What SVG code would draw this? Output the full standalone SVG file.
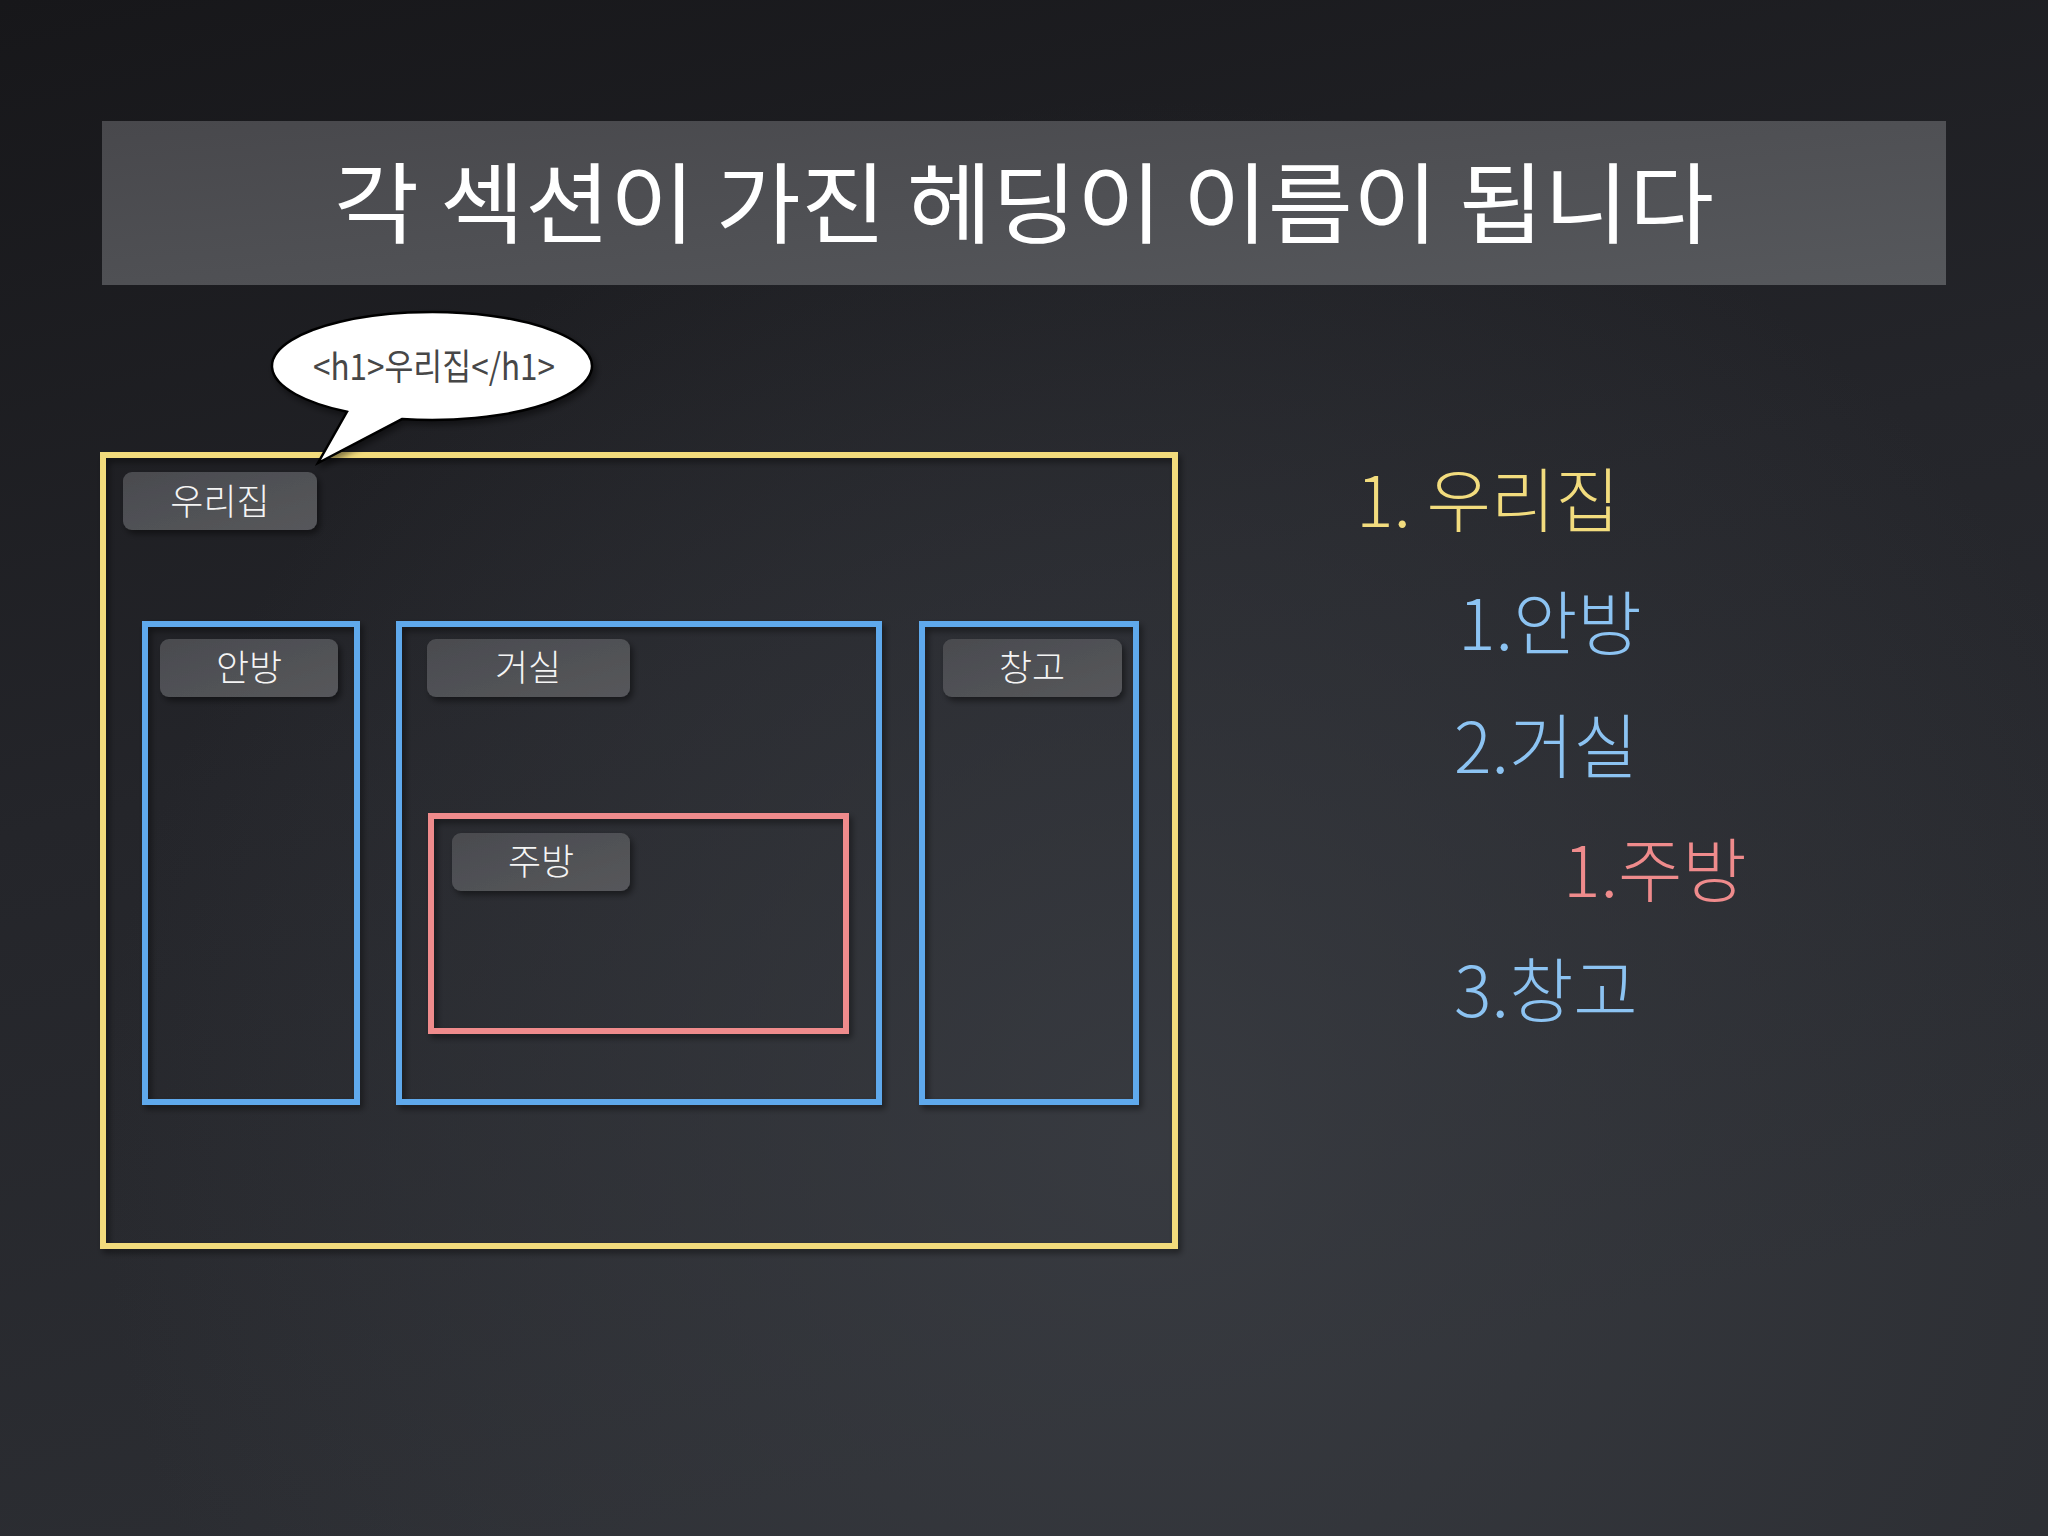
<svg xmlns="http://www.w3.org/2000/svg" width="2048" height="1536" viewBox="0 0 2048 1536">
<defs>
<linearGradient id="bg" x1="0" y1="0" x2="0.3" y2="1">
<stop offset="0" stop-color="#17171a"/>
<stop offset="0.5" stop-color="#24252a"/>
<stop offset="1" stop-color="#2c2e33"/>
</linearGradient>
<radialGradient id="glow" cx="1150" cy="1150" r="1050" gradientUnits="userSpaceOnUse">
<stop offset="0" stop-color="#3a3d43" stop-opacity="0.85"/>
<stop offset="1" stop-color="#3a3d43" stop-opacity="0"/>
</radialGradient>
<linearGradient id="banner" x1="0" y1="0" x2="1" y2="1">
<stop offset="0" stop-color="#48484c"/>
<stop offset="1" stop-color="#56585c"/>
</linearGradient>
<linearGradient id="lbl" x1="0" y1="0" x2="1" y2="1">
<stop offset="0" stop-color="#4a4b4f"/>
<stop offset="1" stop-color="#56575b"/>
</linearGradient>
<filter id="sh" x="-10%" y="-10%" width="130%" height="130%">
<feDropShadow dx="3" dy="4" stdDeviation="3" flood-color="#000" flood-opacity="0.45"/>
</filter>
<style>
.box{fill:none;stroke-width:6;filter:url(#sh)}
.yel{stroke:#f2db7c}
.blu{stroke:#5ea9ec}
.red{stroke:#ef8b8c}
.lbl{fill:url(#lbl);filter:url(#sh)}
.lt{fill:#f4f4f4;font-family:"Noto Sans CJK KR","Noto Sans",sans-serif;font-size:36px;font-weight:300;text-anchor:middle}
.li{font-family:"Noto Sans CJK KR","Noto Sans",sans-serif;font-size:70px;font-weight:300}
</style>
</defs>
<rect width="2048" height="1536" fill="url(#bg)"/>
<rect width="2048" height="1536" fill="url(#glow)"/>

<g id="title">
<rect x="102" y="121" width="1844" height="164" fill="url(#banner)"/>
<text x="1024" y="236" text-anchor="middle" textLength="1380" lengthAdjust="spacingAndGlyphs" font-family="Noto Sans CJK KR, sans-serif" font-size="88" font-weight="400" fill="#ffffff">각 섹션이 가진 헤딩이 이름이 됩니다</text>
</g>

<g id="house">
<rect class="box yel" x="103" y="455" width="1072" height="791"/>
<rect class="lbl" x="123" y="472" width="194" height="58" rx="9"/>
<text class="lt" x="220" y="515" font-size="40">우리집</text>
</g>

<g id="anbang">
<rect class="box blu" x="145" y="624" width="212" height="478"/>
<rect class="lbl" x="160" y="639" width="178" height="58" rx="9"/>
<text class="lt" x="249" y="681">안방</text>
</g>

<g id="geosil">
<rect class="box blu" x="399" y="624" width="480" height="478"/>
<rect class="lbl" x="427" y="639" width="203" height="58" rx="9"/>
<text class="lt" x="528" y="681">거실</text>
</g>

<g id="jubang">
<rect class="box red" x="431" y="816" width="415" height="215"/>
<rect class="lbl" x="452" y="833" width="178" height="58" rx="9"/>
<text class="lt" x="541" y="875">주방</text>
</g>

<g id="changgo">
<rect class="box blu" x="922" y="624" width="214" height="478"/>
<rect class="lbl" x="943" y="639" width="179" height="58" rx="9"/>
<text class="lt" x="1032" y="681">창고</text>
</g>

<g id="bubble">
<path d="M347 411.75 L318 463 L402 419.04 A160 54 0 1 0 347 411.75 Z" fill="#ffffff" stroke="#000" stroke-width="2.5" filter="url(#sh)"/>
<text x="434" y="380" text-anchor="middle" textLength="242" lengthAdjust="spacingAndGlyphs" font-family="Noto Sans CJK KR, Noto Sans, sans-serif" font-size="36" fill="#474747">&lt;h1&gt;우리집&lt;/h1&gt;</text>
</g>

<g id="outline">
<text class="li" x="1356" y="527" fill="#f2dc7e">1. 우리집</text>
<text class="li" x="1458" y="650" fill="#8cc3f2">1.안방</text>
<text class="li" x="1454" y="773" fill="#8cc3f2">2.거실</text>
<text class="li" x="1563" y="897" fill="#ef8b8c">1.주방</text>
<text class="li" x="1454" y="1017" fill="#8cc3f2">3.창고</text>
</g>
</svg>
